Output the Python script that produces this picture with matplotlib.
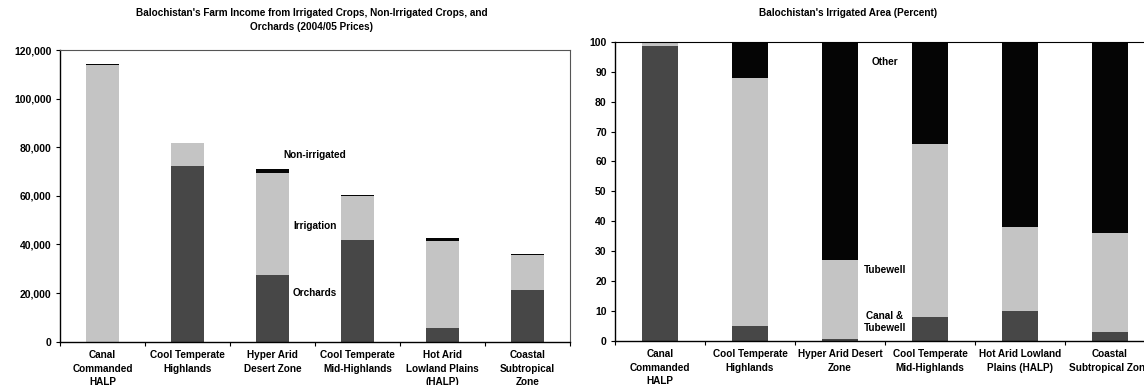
import matplotlib
matplotlib.use("Agg")
import matplotlib.pyplot as plt
import numpy as np

plt.rcParams['font.family'] = ['Liberation Sans', 'DejaVu Sans']
plt.rcParams['font.weight'] = 'bold'

# ---- Left chart data (farm income, 2004/05 prices) ----
income_zones = ["Canal\nCommanded\nHALP", "Cool Temperate\nHighlands", "Hyper Arid\nDesert Zone",
                "Cool Temperate\nMid-Highlands", "Hot Arid\nLowland Plains\n(HALP)", "Coastal\nSubtropical\nZone"]
orchards = [0, 72300, 27300, 41800, 5700, 21300]
irrigation = [113700, 9300, 42200, 18100, 35900, 14200]
non_irrigated = [600, 300, 1500, 500, 1100, 400]
income_ticks = [0, 20000, 40000, 60000, 80000, 100000, 120000]

# ---- Right chart data (irrigated area, percent) ----
area_zones = ["Canal\nCommanded\nHALP", "Cool Temperate\nHighlands", "Hyper Arid Desert\nZone",
              "Cool Temperate\nMid-Highlands", "Hot Arid Lowland\nPlains (HALP)", "Coastal\nSubtropical Zone"]
canal_tubewell = [98.5, 5, 0.7, 8, 10, 3]
tubewell = [1.5, 83, 26.3, 58, 28, 33]
other = [0, 12, 73, 34, 62, 64]
pct_ticks = list(range(0, 101, 10))

LIGHT = "#c4c4c4"
DARK = "#474747"
BLACK = "#050505"
FS = 7.2

fig = plt.figure(figsize=(11.44, 3.85), dpi=100)

def style_axes(ax, n):
    ax.set_xlim(-0.5, n - 0.5)
    ax.set_xticks(np.arange(n))
    ax.tick_params(axis='x', length=0, pad=6, labelsize=FS)
    ax.set_xticks(np.arange(n + 1) - 0.5, minor=True)
    ax.tick_params(axis='x', which='minor', length=3, width=0.8, direction='out')
    ax.tick_params(axis='y', length=3, width=0.8, direction='out', labelsize=FS + 0.3, pad=3)
    for s in ['left', 'bottom']:
        ax.spines[s].set_linewidth(1.0)
        ax.spines[s].set_color('black')
    for s in ['top', 'right']:
        ax.spines[s].set_linewidth(0.8)
        ax.spines[s].set_color('#555555')
        ax.spines[s].set_linestyle((0, (1, 1)))

# Left chart
ax1 = fig.add_axes([60 / 1144, (385 - 341.7) / 385, 510 / 1144, (341.7 - 50) / 385])
x = np.arange(len(income_zones))
w = 0.39
b1 = np.array(orchards, dtype=float)
b2 = b1 + np.array(irrigation)
ax1.bar(x, orchards, w, color=DARK, edgecolor='none')
ax1.bar(x, irrigation, w, bottom=b1, color=LIGHT, edgecolor='none')
ax1.bar(x, non_irrigated, w, bottom=b2, color=BLACK, edgecolor='none')
ax1.set_ylim(0, 120000)
ax1.set_yticks(income_ticks)
ax1.set_yticklabels([f"{v:,}" for v in income_ticks])
ax1.set_xticklabels(income_zones, linespacing=1.45)
style_axes(ax1, len(income_zones))
ax1.text(2.5, 76800, "Non-irrigated", ha='center', va='center', fontsize=FS)
ax1.text(2.5, 47600, "Irrigation", ha='center', va='center', fontsize=FS)
ax1.text(2.5, 20100, "Orchards", ha='center', va='center', fontsize=FS)

fig.text(312 / 1144, 1 - 20 / 385,
         "Balochistan's Farm Income from Irrigated Crops, Non-Irrigated Crops, and\nOrchards (2004/05 Prices)",
         ha='center', va='center', fontsize=FS, linespacing=1.55)

# Right chart
ax2 = fig.add_axes([615 / 1144, (385 - 340.7) / 385, 540 / 1144, (340.7 - 42) / 385])
x2 = np.arange(len(area_zones))
c1 = np.array(canal_tubewell, dtype=float)
c2 = c1 + np.array(tubewell)
ax2.bar(x2, canal_tubewell, w, color=DARK, edgecolor='none')
ax2.bar(x2, tubewell, w, bottom=c1, color=LIGHT, edgecolor='none')
ax2.bar(x2, other, w, bottom=c2, color=BLACK, edgecolor='none')
ax2.set_ylim(0, 100)
ax2.set_yticks(pct_ticks)
ax2.set_xticklabels(area_zones, linespacing=1.45)
style_axes(ax2, len(area_zones))
ax2.spines['top'].set_linestyle('-')
ax2.spines['top'].set_color('black')
ax2.text(2.5, 93.4, "Other", ha='center', va='center', fontsize=FS)
ax2.text(2.5, 23.7, "Tubewell", ha='center', va='center', fontsize=FS)
ax2.text(2.5, 6.3, "Canal &\nTubewell", ha='center', va='center', fontsize=FS, linespacing=1.3)

fig.text(848 / 1144, 1 - 13 / 385, "Balochistan's Irrigated Area (Percent)",
         ha='center', va='center', fontsize=FS)

fig.savefig("out.png", dpi=100)
